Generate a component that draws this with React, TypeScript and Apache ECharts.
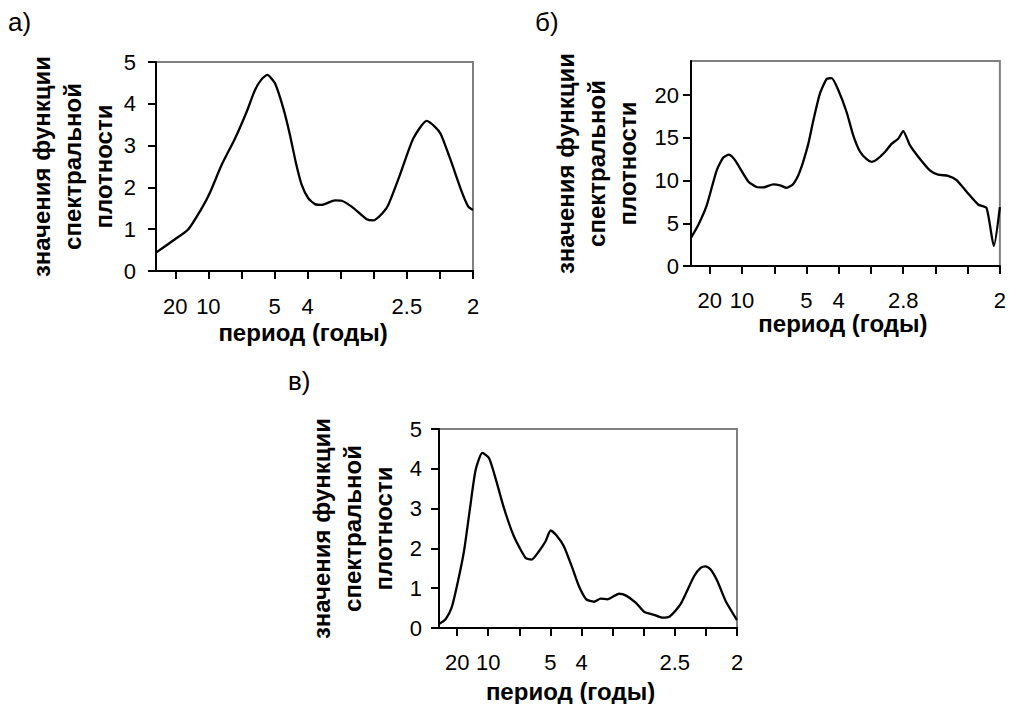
import React, { useEffect, useRef } from "react";
import * as echarts from "echarts";

// Frequencies (1/years) at which the spectral density was read, and the values
const X_MIN = 1 / 48;
const X_MAX = 0.5;
const tickFreqs = [0.05, 0.1, 0.15, 0.2, 0.25, 0.3, 0.35, 0.4, 0.45, 0.5];

const labelFreqsA = [0.05, 0.1, 0.2, 0.25, 0.4, 0.5];
const labelsA = ["20", "10", "5", "4", "2.5", "2"];
const labelFreqsB = [0.05, 0.1, 0.2, 0.25, 0.35, 0.5];
const labelsB = ["20", "10", "5", "4", "2.8", "2"];
const labelFreqsC = [0.05, 0.1, 0.2, 0.25, 0.4, 0.5];
const labelsC = ["20", "10", "5", "4", "2.5", "2"];

const yTicksA = [0, 1, 2, 3, 4, 5];
const yTicksB = [0, 5, 10, 15, 20];
const yTicksC = [0, 1, 2, 3, 4, 5];

const freqA = [0.0208, 0.0496, 0.0697, 0.0899, 0.1025, 0.1201, 0.1403, 0.1579, 0.1705, 0.1806, 0.1891, 0.2007, 0.2133, 0.2234, 0.232, 0.2411, 0.2511, 0.2612, 0.2713, 0.2914, 0.3015, 0.3166, 0.3393, 0.3493, 0.3605, 0.3719, 0.3896, 0.4097, 0.43, 0.4425, 0.4512, 0.4652, 0.4829, 0.4929, 0.5];
const valA = [0.44, 0.76, 1.0, 1.5, 1.88, 2.54, 3.17, 3.81, 4.33, 4.59, 4.69, 4.49, 3.89, 3.25, 2.61, 2.06, 1.74, 1.6, 1.58, 1.69, 1.68, 1.54, 1.24, 1.21, 1.34, 1.58, 2.3, 3.17, 3.59, 3.45, 3.28, 2.7, 1.9, 1.54, 1.46];

const freqB = [0.0208, 0.0321, 0.0452, 0.0607, 0.0709, 0.0798, 0.0891, 0.1097, 0.1227, 0.133, 0.1485, 0.1588, 0.1692, 0.1795, 0.1899, 0.2028, 0.2105, 0.2209, 0.2313, 0.239, 0.2493, 0.2623, 0.2725, 0.2829, 0.2933, 0.301, 0.3088, 0.3217, 0.332, 0.3423, 0.35, 0.3604, 0.3733, 0.3914, 0.4043, 0.4198, 0.4328, 0.4483, 0.4663, 0.4793, 0.4906, 0.5];
const valB = [3.3, 4.8, 7.1, 11.2, 12.7, 13.05, 12.4, 9.9, 9.25, 9.2, 9.55, 9.45, 9.15, 9.6, 11.1, 14.3, 17.0, 20.2, 21.9, 22.0, 20.6, 18.0, 15.3, 13.4, 12.5, 12.2, 12.45, 13.35, 14.3, 14.9, 15.8, 14.15, 12.8, 11.2, 10.7, 10.55, 10.05, 8.7, 7.2, 6.8, 2.35, 6.9];

const freqC = [0.0208, 0.0314, 0.0411, 0.0503, 0.061, 0.07, 0.0797, 0.0905, 0.1012, 0.1118, 0.1253, 0.1414, 0.1601, 0.1697, 0.1816, 0.1922, 0.2003, 0.2111, 0.2218, 0.2352, 0.2459, 0.2577, 0.2701, 0.2807, 0.2915, 0.3103, 0.3209, 0.337, 0.3505, 0.3666, 0.3799, 0.3917, 0.4093, 0.4309, 0.4415, 0.4495, 0.4576, 0.4684, 0.4817, 0.5];
const valC = [0.1, 0.22, 0.51, 1.1, 1.93, 2.93, 3.97, 4.4, 4.27, 3.76, 3.01, 2.3, 1.76, 1.72, 1.93, 2.18, 2.45, 2.3, 2.05, 1.51, 1.05, 0.72, 0.66, 0.74, 0.72, 0.86, 0.82, 0.64, 0.41, 0.33, 0.26, 0.29, 0.6, 1.3, 1.51, 1.55, 1.47, 1.18, 0.68, 0.2];

const xTitle = "период (годы)";
const yTitle = "значения функции\nспектральной\nплотности";
const captions = ["а)", "б)", "в)"];

const FONT = "'Liberation Sans', Arial, Helvetica, sans-serif";

type Panel = {
  grid: { left: number; top: number; width: number; height: number };
  freqs: number[];
  vals: number[];
  yMax: number;
  yTicks: number[];
  labelFreqs: number[];
  labels: string[];
  xNameGap: number;
  yNameGap: number;
  yLabelMargin: number;
  xLabelMargin: number;
  xNamePad: number;
};

const panels: Panel[] = [
  {
    grid: { left: 156, top: 62, width: 317, height: 209 },
    freqs: freqA, vals: valA, yMax: 5, yTicks: yTicksA,
    labelFreqs: labelFreqsA, labels: labelsA,
    xNameGap: 49, yNameGap: 37, yLabelMargin: 20, xLabelMargin: 24, xNamePad: 23,
  },
  {
    grid: { left: 691, top: 61, width: 309, height: 205 },
    freqs: freqB, vals: valB, yMax: 24, yTicks: yTicksB,
    labelFreqs: labelFreqsB, labels: labelsB,
    xNameGap: 33, yNameGap: 48, yLabelMargin: 12, xLabelMargin: 23, xNamePad: 5,
  },
  {
    grid: { left: 439, top: 429, width: 298, height: 200 },
    freqs: freqC, vals: valC, yMax: 5, yTicks: yTicksC,
    labelFreqs: labelFreqsC, labels: labelsC,
    xNameGap: 51, yNameGap: 40, yLabelMargin: 17, xLabelMargin: 23, xNamePad: 35,
  },
];

export default function App() {
  const ref = useRef<HTMLDivElement>(null);

  useEffect(() => {
    if (!ref.current) return;
    const chart = echarts.init(ref.current, null, { renderer: "svg" });

    const grids: any[] = [];
    const xAxes: any[] = [];
    const yAxes: any[] = [];
    const series: any[] = [];

    panels.forEach((p, i) => {
      grids.push({
        ...p.grid,
        show: true,
        borderColor: "#808080",
        borderWidth: 2,
        backgroundColor: "transparent",
      });
      xAxes.push({
        type: "value",
        gridIndex: i,
        min: X_MIN,
        max: X_MAX,
        axisLine: { show: true, onZero: false, lineStyle: { color: "#000", width: 2 } },
        axisTick: { show: true, length: 8, lineStyle: { color: "#000", width: 2 }, customValues: tickFreqs },
        axisLabel: {
          customValues: p.labelFreqs,
          formatter: (v: number) => {
            const k = p.labelFreqs.findIndex((f) => Math.abs(f - v) < 1e-6);
            return k >= 0 ? p.labels[k] : "";
          },
          fontSize: 22,
          color: "#000",
          fontFamily: FONT,
          margin: p.xLabelMargin,
        },
        splitLine: { show: false },
        name: xTitle,
        nameLocation: "middle",
        nameGap: p.xNameGap,
        nameTextStyle: {
          fontSize: 24,
          fontWeight: "bold",
          color: "#000",
          fontFamily: FONT,
          padding: [0, p.xNamePad, 0, 0],
        },
      });
      yAxes.push({
        type: "value",
        gridIndex: i,
        min: 0,
        max: p.yMax,
        axisLine: { show: true, onZero: false, lineStyle: { color: "#000", width: 2 } },
        axisTick: { show: true, length: 8, lineStyle: { color: "#000", width: 2 }, customValues: p.yTicks },
        axisLabel: {
          customValues: p.yTicks,
          fontSize: 22,
          color: "#000",
          fontFamily: FONT,
          margin: p.yLabelMargin,
        },
        splitLine: { show: false },
        name: yTitle,
        nameLocation: "middle",
        nameRotate: 90,
        nameGap: p.yNameGap,
        nameTextStyle: {
          fontSize: 24,
          fontWeight: "bold",
          color: "#000",
          fontFamily: FONT,
          lineHeight: 31,
        },
      });
      series.push({
        type: "line",
        xAxisIndex: i,
        yAxisIndex: i,
        data: p.freqs.map((f, k) => [f, p.vals[k]]),
        showSymbol: false,
        smooth: 0.2,
        lineStyle: { color: "#000", width: 2.3 },
        clip: true,
      });
    });

    chart.setOption({
      animation: false,
      backgroundColor: "#fff",
      textStyle: { fontFamily: FONT },
      grid: grids,
      xAxis: xAxes,
      yAxis: yAxes,
      series,
      graphic: [
        { type: "text", left: 8, top: 9, style: { text: captions[0], font: `26px ${FONT}`, fill: "#000" } },
        { type: "text", left: 535, top: 9, style: { text: captions[1], font: `26px ${FONT}`, fill: "#000" } },
        { type: "text", left: 288, top: 368, style: { text: captions[2], font: `26px ${FONT}`, fill: "#000" } },
      ],
    });

    return () => chart.dispose();
  }, []);

  return (
    <div
      ref={ref}
      style={{ position: "absolute", left: 0, top: 0, width: 1009, height: 704 }}
    />
  );
}
